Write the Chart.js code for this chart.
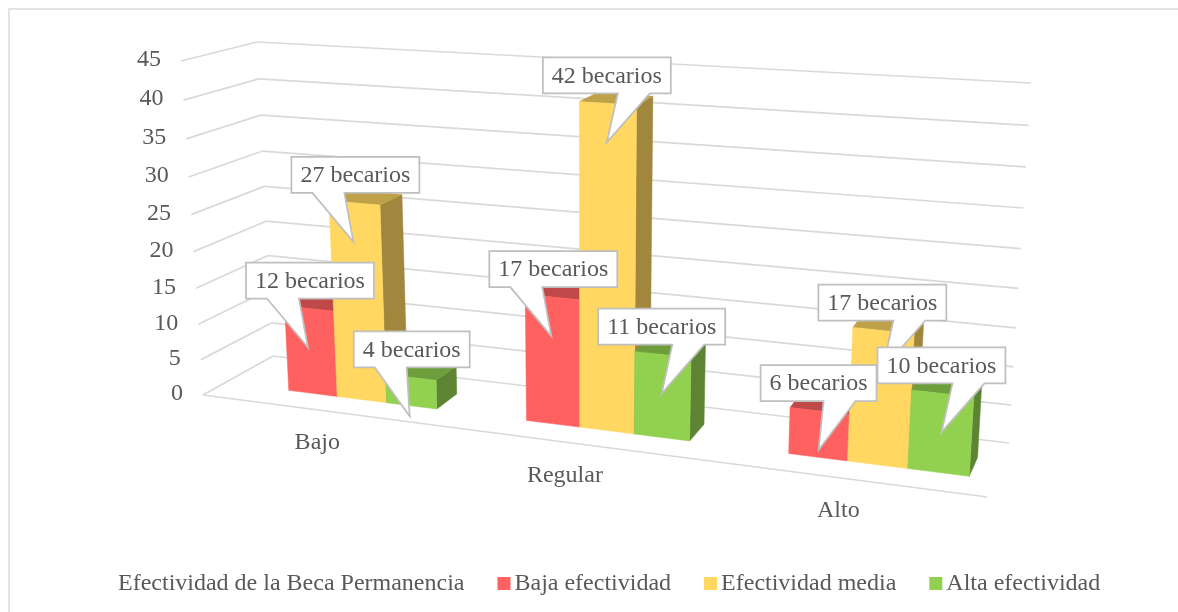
<!DOCTYPE html>
<html>
<head>
<meta charset="utf-8">
<script src="https://cdn.jsdelivr.net/npm/chart.js@4"></script>
<style>
  html, body { margin: 0; padding: 0; background: #fff; overflow: hidden; }
  #wrap { position: absolute; left: 8px; top: 8px; right: 0; bottom: 0; border-left: 2px solid #e3e3e3; border-top: 2px solid #e3e3e3; }
  #box { position: absolute; left: 0; top: 0; width: 1178px; height: 612px; }
</style>
</head>
<body>
<div id="wrap"></div>
<div id="box"><canvas id="chart" width="1178" height="612"></canvas></div>
<script>
const categories = ['Bajo', 'Regular', 'Alto'];
const bajaEfectividad = [12, 17, 6];
const efectividadMedia = [27, 42, 17];
const altaEfectividad = [4, 11, 10];
const seriesNames = ['Baja efectividad', 'Efectividad media', 'Alta efectividad'];
const legendTitle = 'Efectividad de la Beca Permanencia';
const unitLabel = 'becarios';

const FONT = '24px "Liberation Serif", "Times New Roman", serif';
const TEXT = '#595959';
const GRID = '#d9d9d9';

// corners of the 3D box on screen: [u, v, w] = [right, up, back]
const corners = {
  '000': [203, 395], '100': [987, 497], '010': [181, 61], '110': [1010, 112],
  '001': [273, 356], '101': [1009, 443], '011': [257, 42], '111': [1031, 83]
};
// perspective amounts along each axis
const persp = { u: -0.138, v: -0.06, w: 0.0676 };
const warp = (t, a) => t * (1 + a) / (1 + a * t);

function project(u, v, w) {
  const a = warp(u, persp.u), b = warp(v, persp.v), c = warp(w, persp.w);
  const out = [0, 0];
  for (const key in corners) {
    const k = (key[0] === '1' ? a : 1 - a) * (key[1] === '1' ? b : 1 - b) * (key[2] === '1' ? c : 1 - c);
    out[0] += k * corners[key][0];
    out[1] += k * corners[key][1];
  }
  return out;
}

function shade(hex, f) {
  const n = parseInt(hex.slice(1), 16);
  return `rgb(${(n >> 16) * f},${((n >> 8) & 255) * f},${(n & 255) * f})`;
}

function poly(ctx, pts, fill) {
  ctx.beginPath();
  pts.forEach((p, i) => (i ? ctx.lineTo(p[0], p[1]) : ctx.moveTo(p[0], p[1])));
  ctx.closePath();
  ctx.fillStyle = fill;
  ctx.fill();
  ctx.strokeStyle = fill;
  ctx.lineWidth = 0.5;
  ctx.stroke();
}

function segment(ctx, a, b) {
  ctx.beginPath();
  ctx.moveTo(a[0], a[1]);
  ctx.lineTo(b[0], b[1]);
  ctx.stroke();
}

const BAR_SHIFT = 0.033; // bars sit a bit right of their axis label
const DEPTH = [0.31, 0.66];

const box3d = {
  id: 'box3d',
  beforeDatasetsDraw(chart) {
    const { ctx, chartArea: area, scales } = chart;
    const toU = (px) => (px - area.left) / (area.right - area.left);
    const toV = (py) => (area.bottom - py) / (area.bottom - area.top);

    // walls and tick labels
    ctx.save();
    ctx.font = FONT;
    ctx.lineWidth = 1.75;
    scales.y.ticks.forEach((t) => {
      const v = toV(scales.y.getPixelForValue(t.value));
      const a = project(0, v, 0), b = project(0, v, 1), c = project(1, v, 1);
      ctx.strokeStyle = GRID;
      segment(ctx, a, b);
      segment(ctx, b, c);
      ctx.fillStyle = TEXT;
      ctx.textAlign = 'right';
      ctx.textBaseline = 'middle';
      ctx.fillText(String(t.value), a[0] - 20, a[1] - 1);
    });
    ctx.strokeStyle = GRID;
    segment(ctx, project(0, 0, 0), project(1, 0, 0));

    categories.forEach((name, i) => {
      const p = project(toU(scales.x.getPixelForValue(i)), 0, 0);
      ctx.fillStyle = TEXT;
      ctx.textAlign = 'center';
      ctx.textBaseline = 'middle';
      ctx.fillText(name, p[0] - 1, p[1] + 33);
    });

    // bars, left to right
    categories.forEach((_, i) => {
      chart.data.datasets.forEach((ds, d) => {
        const el = chart.getDatasetMeta(d).data[i].getProps(['x', 'y', 'width'], true);
        const u0 = toU(el.x - el.width / 2) + BAR_SHIFT, u1 = toU(el.x + el.width / 2) + BAR_SHIFT;
        const v = toV(el.y);
        const [w0, w1] = DEPTH;
        poly(ctx, [project(u1, 0, w0), project(u1, 0, w1), project(u1, v, w1), project(u1, v, w0)], shade(ds.backgroundColor, 0.63));
        poly(ctx, [project(u0, v, w0), project(u1, v, w0), project(u1, v, w1), project(u0, v, w1)], shade(ds.backgroundColor, 0.75));
        poly(ctx, [project(u0, 0, w0), project(u1, 0, w0), project(u1, v, w0), project(u0, v, w0)], ds.backgroundColor);
      });
    });

    // callouts
    const mid = (area.left + area.right) / 2;
    chart.data.datasets.forEach((ds, d) => {
      categories.forEach((_, i) => {
        const el = chart.getDatasetMeta(d).data[i].getProps(['x', 'y', 'width'], true);
        const u = toU(el.x) + BAR_SHIFT;
        const top = project(u, toV(el.y), DEPTH[0]);
        const text = ds.data[i] + ' ' + unitLabel;
        const w = ctx.measureText(text).width + 18, h = 36;
        const tip = [top[0] - 1, top[1] + 39];
        const onLeft = top[0] < mid;
        const left = tip[0] - w / 2 + (onLeft ? 2 : 0), upper = tip[1] - 49 - h;
        const b0 = onLeft ? left + 21 : left + w - 53, b1 = b0 + 32;
        ctx.beginPath();
        ctx.moveTo(left, upper);
        ctx.lineTo(left + w, upper);
        ctx.lineTo(left + w, upper + h);
        ctx.lineTo(b1, upper + h);
        ctx.lineTo(tip[0], tip[1]);
        ctx.lineTo(b0, upper + h);
        ctx.lineTo(left, upper + h);
        ctx.closePath();
        ctx.fillStyle = '#fff';
        ctx.fill();
        ctx.strokeStyle = '#bfbfbf';
        ctx.lineWidth = 1.75;
        ctx.stroke();
        ctx.fillStyle = TEXT;
        ctx.textAlign = 'center';
        ctx.textBaseline = 'middle';
        ctx.fillText(text, left + w / 2, upper + h / 2 + 1);
      });
    });
    ctx.restore();
    return false; // native flat bars are replaced by the 3D ones
  },
  afterDraw(chart) {
    // one-line legend, with its title on the left
    const { ctx, height } = chart;
    ctx.save();
    ctx.font = FONT;
    ctx.textBaseline = 'middle';
    ctx.textAlign = 'left';
    const y = height - 28, swatch = 13, gap = 4, pad = 33;
    let x = 118;
    ctx.fillStyle = TEXT;
    ctx.fillText(legendTitle, x, y);
    x += ctx.measureText(legendTitle).width + pad;
    chart.data.datasets.forEach((ds) => {
      ctx.fillStyle = ds.backgroundColor;
      ctx.fillRect(x, y - 7, swatch, swatch);
      x += swatch + gap;
      ctx.fillStyle = TEXT;
      ctx.fillText(ds.label, x, y);
      x += ctx.measureText(ds.label).width + pad;
    });
    ctx.restore();
  }
};

new Chart(document.getElementById('chart').getContext('2d'), {
  type: 'bar',
  data: {
    labels: categories,
    datasets: [
      { label: seriesNames[0], data: bajaEfectividad, backgroundColor: '#ff6161' },
      { label: seriesNames[1], data: efectividadMedia, backgroundColor: '#ffd761' },
      { label: seriesNames[2], data: altaEfectividad, backgroundColor: '#92d14f' }
    ]
  },
  options: {
    responsive: false,
    animation: false,
    categoryPercentage: 0.634,
    barPercentage: 1,
    plugins: {
      legend: { display: false },
      tooltip: { enabled: false }
    },
    scales: {
      x: { display: false },
      y: { display: false, min: 0, max: 45, ticks: { stepSize: 5 } }
    }
  },
  plugins: [box3d]
});
</script>
</body>
</html>
